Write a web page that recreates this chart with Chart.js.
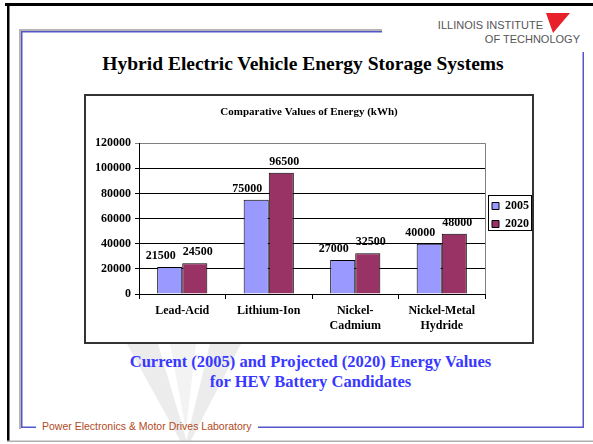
<!DOCTYPE html>
<html>
<head>
<meta charset="utf-8">
<script src="https://cdn.jsdelivr.net/npm/chart.js@4.4.0/dist/chart.umd.min.js"></script>
<style>
body { margin: 0; width: 593px; height: 444px; position: relative; background: #fff; overflow: hidden; font-family: "Liberation Serif", serif; }
.abs { position: absolute; white-space: nowrap; }
</style>
</head>
<body>
<svg class="abs" style="left:0;top:0" width="593" height="444">
  <!-- faint watermark -->
  <polygon points="127,344 158,344 187,442 181,442" fill="#ececec"/>
  <polygon points="210,344 241,344 190,442 186,442" fill="#ececec"/>
  <polygon points="170,344 196,344 186,430" fill="#f3f3f3"/>
  <!-- outer border -->
  <rect x="5" y="3" width="588" height="3" fill="#000"/>
  <rect x="7" y="3" width="2.5" height="439" fill="#000"/>
  <rect x="7" y="440.5" width="586" height="1.5" fill="#b0b0b0"/>
  <!-- slide frame -->
  <rect x="19" y="29" width="363" height="2" fill="#b4b4b4"/>
  <rect x="19" y="29" width="2" height="400" fill="#b4b4b4"/>
  <rect x="21" y="31" width="361" height="1.5" fill="#5555cc"/>
  <rect x="21" y="31" width="1.5" height="397" fill="#5555cc"/>
  <rect x="21" y="426.5" width="15" height="1.5" fill="#5555cc"/>
  <rect x="258" y="426.5" width="326" height="1.5" fill="#5555cc"/>
  <rect x="582.5" y="52" width="1.5" height="376" fill="#5555cc"/>
  <!-- logo mark -->
  <polygon points="546,13 570,13 553,33" fill="#e8202a"/>
</svg>

<div class="abs" style="left:400px;width:143px;top:19px;height:14px;line-height:14px;text-align:right;font:11px 'Liberation Sans',sans-serif;color:#555;">ILLINOIS INSTITUTE</div>
<div class="abs" style="left:437px;width:143px;top:33px;height:14px;line-height:14px;text-align:right;font:11px 'Liberation Sans',sans-serif;color:#555;">OF TECHNOLOGY</div>

<div class="abs" style="left:53px;width:500px;top:52px;height:24px;line-height:24px;text-align:center;font-weight:bold;font-size:19.5px;color:#000;">Hybrid Electric Vehicle Energy Storage Systems</div>

<div class="abs" style="left:84px;top:94px;width:446px;height:246px;border:2px solid #333;background:#fff;">
  <canvas id="chart" width="446" height="246"></canvas>
</div>

<div class="abs" style="left:60px;width:501px;top:352px;line-height:20px;text-align:center;font-weight:bold;font-size:16.5px;color:#3838ff;">Current (2005) and Projected (2020) Energy Values<br>for HEV Battery Candidates</div>

<div class="abs" style="left:42px;top:420px;height:14px;line-height:14px;font:10.5px 'Liberation Sans',sans-serif;color:#b24a1c;">Power Electronics &amp; Motor Drives Laboratory</div>

<script>
// categories and series
var categories = [["Lead-Acid"], ["Lithium-Ion"], ["Nickel-", "Cadmium"], ["Nickel-Metal", "Hydride"]];
var series2005name = "2005";
var series2005data = [21500, 75000, 27000, 40000];
var series2020name = "2020";
var series2020data = [24500, 96500, 32500, 48000];

// y axis
var ymin = 0;
var ymax = 120000;
var ystep = 20000;

var chartTitle = "Comparative Values of Energy (kWh)";

var serif = "'Liberation Serif', 'Times New Roman', serif";

// value labels over the bars
var barLabels = {
  id: "barLabels",
  afterDatasetsDraw: function (chart) {
    var ctx = chart.ctx;
    ctx.save();
    ctx.font = "bold 12px " + serif;
    ctx.fillStyle = "#000";
    ctx.textAlign = "center";
    ctx.textBaseline = "alphabetic";
    chart.data.datasets.forEach(function (ds, i) {
      var dx = i === 0 ? -9 : 3;
      chart.getDatasetMeta(i).data.forEach(function (bar, j) {
        ctx.fillText(String(ds.data[j]), bar.x + dx, bar.y - 8);
      });
    });
    ctx.restore();
  }
};

// grey right edge of plot area + box around legend
var frames = {
  id: "frames",
  afterLayout: function (chart) {
    // nudge the legend a little, like the excel one
    var lg = chart.legend;
    lg.left += 1; lg.right += 1;
    lg.top -= 4; lg.bottom -= 4;
  },
  beforeDatasetsDraw: function (chart) {
    var a = chart.chartArea, ctx = chart.ctx;
    ctx.save();
    ctx.strokeStyle = "#808080";
    ctx.lineWidth = 1;
    ctx.beginPath();
    ctx.moveTo(Math.round(a.right) + 0.5, a.top);
    ctx.lineTo(Math.round(a.right) + 0.5, a.bottom);
    ctx.stroke();
    ctx.restore();
  },
  afterDraw: function (chart) {
    var hb = chart.legend.legendHitBoxes, ctx = chart.ctx;
    if (!hb || !hb.length) return;
    var l = Infinity, t = Infinity, r = -Infinity, b = -Infinity;
    hb.forEach(function (h) {
      l = Math.min(l, h.left); t = Math.min(t, h.top);
      r = Math.max(r, h.left + h.width); b = Math.max(b, h.top + h.height);
    });
    ctx.save();
    ctx.strokeStyle = "#000";
    ctx.lineWidth = 1;
    ctx.strokeRect(Math.round(l - 4) + 0.5, Math.round(t - 5) + 0.5, Math.round(r - l + 6), Math.round(b - t + 5));
    ctx.restore();
  }
};

var ctx = document.getElementById("chart").getContext("2d");

new Chart(ctx, {
  type: "bar",
  data: {
    labels: categories,
    datasets: [
      { label: series2005name, data: series2005data, backgroundColor: "#9999ff", borderColor: "#000", borderWidth: 1, barPercentage: 1.0, categoryPercentage: 0.58 },
      { label: series2020name, data: series2020data, backgroundColor: "#993366", borderColor: "#000", borderWidth: 1, barPercentage: 1.0, categoryPercentage: 0.58 }
    ]
  },
  options: {
    responsive: false,
    animation: false,
    layout: { padding: { left: 0, right: 0, top: 0, bottom: 0 } },
    plugins: {
      title: {
        display: true,
        text: chartTitle,
        color: "#000",
        font: { family: serif, size: 11, weight: "bold", lineHeight: 1.2 },
        padding: { top: 10, bottom: 24 }
      },
      legend: {
        position: "right",
        maxWidth: 47,
        labels: {
          boxWidth: 7,
          boxHeight: 7,
          padding: 6,
          color: "#000",
          font: { family: serif, size: 12, weight: "bold" }
        }
      },
      tooltip: { enabled: false }
    },
    scales: {
      x: {
        grid: { offset: true, drawOnChartArea: false, drawTicks: true, tickLength: 5, color: "#000" },
        border: { color: "#000", width: 1 },
        ticks: { color: "#000", padding: 4, maxRotation: 0, autoSkip: false,
                 font: { family: serif, size: 12, weight: "bold", lineHeight: 1.25 } },
        afterFit: function (s) { s.height = 48; }
      },
      y: {
        min: ymin,
        max: ymax,
        grid: {
          color: function (c) { return c.tick && c.tick.value === ymax ? "#808080" : "#000"; },
          tickLength: 4
        },
        border: { color: "#000", width: 1 },
        ticks: { stepSize: ystep, color: "#000", padding: 4,
                 font: { family: serif, size: 12, weight: "bold" },
                 callback: function (v) { return String(v); } },
        afterFit: function (s) { s.width = 53; }
      }
    }
  },
  plugins: [barLabels, frames]
});
</script>
</body>
</html>
